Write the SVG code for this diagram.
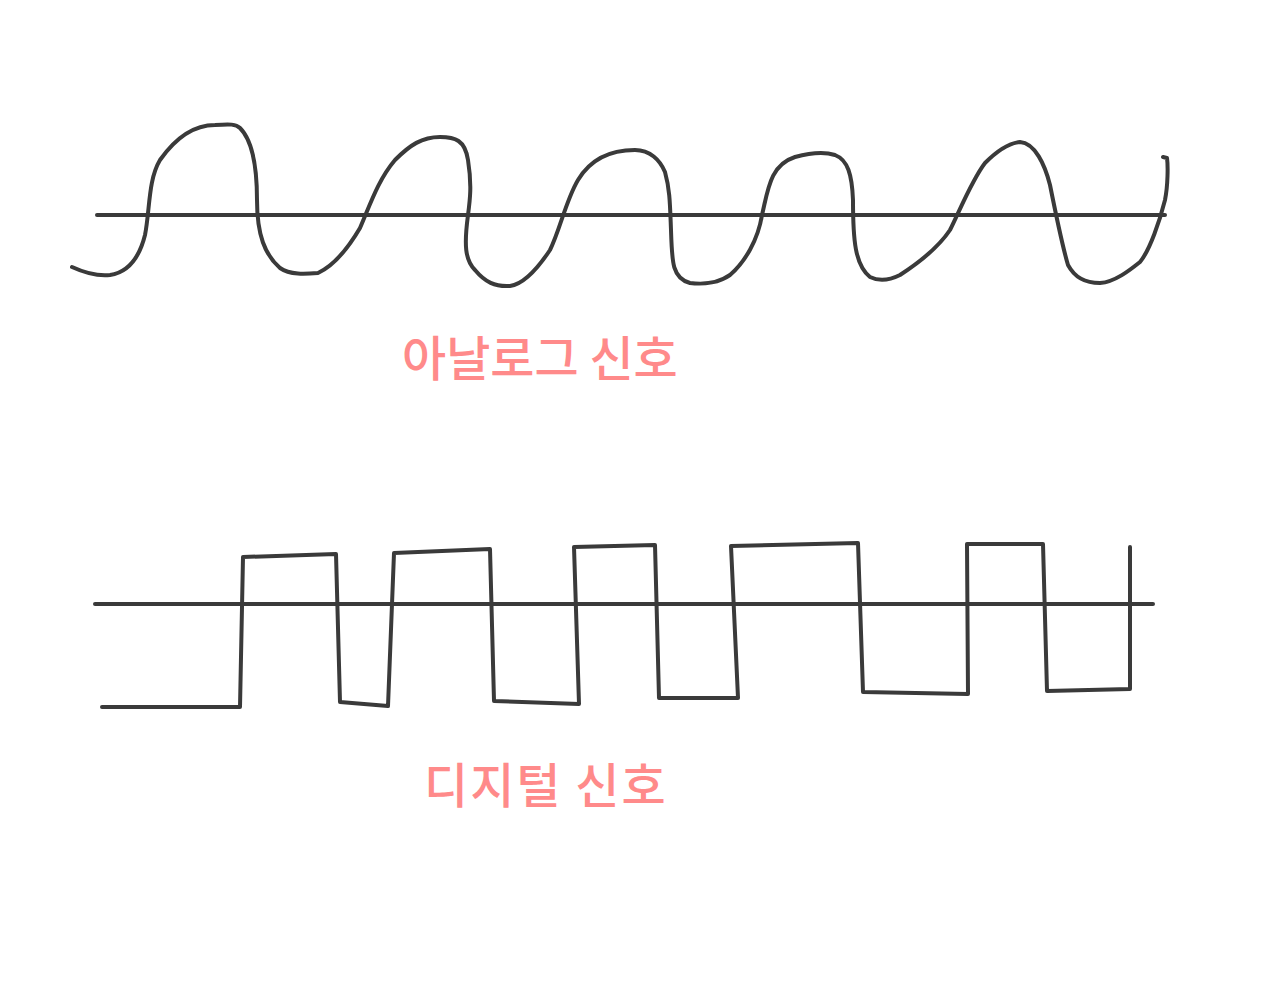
<svg xmlns="http://www.w3.org/2000/svg" width="1275" height="1000" viewBox="0 0 1275 1000">
<style>
.ln{fill:none;stroke:#3a3a3a;stroke-width:4;stroke-linecap:round;stroke-linejoin:round}
.lbl{font-family:"Noto Sans CJK KR","Noto Sans",sans-serif;fill:#ff8a8a;font-size:48px;font-weight:500}
</style>
<rect width="1275" height="1000" fill="#ffffff"/>
<g id="analog">
<line class="ln" x1="97" y1="215" x2="1165" y2="215"/>
<path class="ln" d="M72,267 C85,273 100,276 110,275 C130,272 140,255 145,235 C150,210 148,180 160,160 C172,143 190,125 215,125 C230,124 236,124 240,128 C252,140 257,165 257,200 C257,235 265,255 280,268 C290,275 305,274 318,273 C335,265 350,245 360,228 C370,205 378,180 395,160 C410,145 422,137 440,137 C455,137 465,140 468,160 C472,185 470,200 468,215 C464,245 465,260 475,270 C485,282 495,287 510,286 C525,284 540,265 550,250 C560,230 566,200 578,180 C590,160 610,150 635,150 C650,150 660,160 665,172 C670,190 670,205 671,230 C672,262 672,278 690,283 C705,285 720,282 730,275 C745,262 758,240 762,215 C768,190 770,165 795,157 C810,153 825,152 835,155 C848,160 852,175 853,200 C853,240 855,265 870,277 C880,282 890,280 900,275 C920,262 940,245 950,230 C960,210 972,180 985,163 C998,150 1010,143 1020,142 C1035,143 1045,165 1050,185 C1055,210 1062,245 1068,265 C1075,278 1085,283 1100,283 C1115,282 1130,270 1140,262 C1150,250 1160,220 1165,200 C1168,185 1168,165 1167,158 L1163,157"/>
<text class="lbl" x="402" y="376">아날로그 신호</text>
</g>
<g id="digital">
<line class="ln" x1="95" y1="604" x2="1153" y2="604"/>
<polyline class="ln" points="102,707 240,707 243,557 336,554 340,702 388,706 394,553 490,549 494,701 579,704 574,547 655,545 659,698 738,698 731,546 858,543 863,692 968,694 967,544 1043,544 1047,691 1130,689 1130,547"/>
<text class="lbl" x="424" y="803" letter-spacing="2">디지털 신호</text>
</g>
</svg>
